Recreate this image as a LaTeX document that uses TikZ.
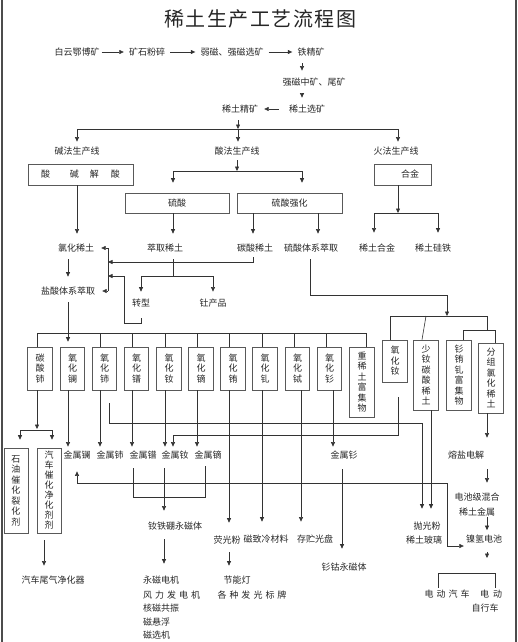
\documentclass[tikz,border=0pt]{standalone}
\usepackage{fontspec}
\setmainfont{Noto Sans CJK SC}
\usetikzlibrary{arrows.meta}
\begin{document}
\begin{tikzpicture}[x=1pt,y=-1pt,
 lbl/.style={inner xsep=2pt, inner ysep=7pt, text=black!85, font=\fontsize{9}{10}\selectfont},
 vbox/.style={draw=black!65, line width=0.6pt, align=center, inner sep=0pt, minimum width=24.5pt, text=black!85, font=\fontsize{9}{10.5}\selectfont},
 hbox/.style={draw=black!65, line width=0.6pt, inner sep=0pt, text=black!85, font=\fontsize{9}{10}\selectfont},
 ln/.style={draw=black!80, line width=0.6pt},
 arr/.style={ln, -{Triangle[length=4.5pt,width=4pt]}},
 arrtwo/.style={ln, {Triangle[length=4.5pt,width=4pt]}-{Triangle[length=4.5pt,width=4pt]}}]
\useasboundingbox (0,0) rectangle (518,642);
\draw[black!70, line width=1.2pt] (2,0) -- (2,642);
\draw[black!70, line width=1.2pt] (516,0) -- (516,642);

\node[text=black!85, font=\fontsize{20}{24}\selectfont, inner sep=0pt] (title) at (260,19) {稀\hspace{1.5pt}土\hspace{1.5pt}生\hspace{1.5pt}产\hspace{1.5pt}工\hspace{1.5pt}艺\hspace{1.5pt}流\hspace{1.5pt}程\hspace{1.5pt}图};

% row 1
\node[lbl] (n1) at (77,52) {白云鄂博矿};
\node[lbl] (n2) at (147,52) {矿石粉碎};
\node[lbl] (n3) at (232,52) {弱磁、强磁选矿};
\node[lbl] (n4) at (311,52) {铁精矿};
\draw[arr, shorten >=3pt] (n1) -- (n2);
\draw[arr, shorten >=3pt, shorten <=3pt] (n2) -- (n3);
\draw[arr, shorten >=3pt, shorten <=3pt] (n3) -- (n4);
\node[lbl] (n5) at (314,82) {强磁中矿、尾矿};
\node[lbl] (n6) at (307,109) {稀土选矿};
\node[lbl] (n7) at (240,109) {稀土精矿};
\draw[arr] (n4.south -| 302,0) -- (n5.north -| 302,0);
\draw[arr] (n5.south -| 302,0) -- (n6.north -| 302,0);
\draw[arr, shorten <=8pt, shorten >=4pt] (n6.west) -- (n7.east);

% split into three lines
\coordinate (j1) at (238,129);
\coordinate (j1l) at (77,129);
\coordinate (j1r) at (398,129);
\node[lbl] (a1) at (77,151) {碱法生产线};
\node[lbl] (a2) at (237,151) {酸法生产线};
\node[lbl] (a3) at (396,151) {火法生产线};
\draw[arr] (n7.south -| j1) -- (j1);
\draw[ln] (j1l) -- (j1r);
\draw[arr, shorten >=-2pt] (j1l) -- (a1.north -| j1l);
\draw[arr, shorten >=-2pt] (j1) -- (a2.north -| j1);
\draw[arr, shorten >=-2pt] (j1r) -- (a3.north -| j1r);

% boxes
\node[hbox, minimum width=105pt, minimum height=21pt] (b1) at (80.5,174.5) {酸\hspace{20pt}碱\hspace{11pt}解\hspace{12pt}酸\hspace{10pt}};
\node[hbox, minimum width=104pt, minimum height=20pt] (b2) at (177,203) {硫酸\hspace{16pt}};
\node[hbox, minimum width=105pt, minimum height=20pt] (b3) at (289.5,203) {硫酸强化\hspace{33pt}};
\node[hbox, minimum width=57pt, minimum height=21pt] (b4) at (402.5,174.5) {\hspace{15pt}合金};

\coordinate (j2) at (237,171);
\coordinate (j2l) at (173,171);
\coordinate (j2r) at (302,171);
\draw[arr, shorten <=-2pt] (a2.south -| j2) -- (j2);
\draw[ln] (j2l) -- (j2r);
\draw[arr] (j2l) -- ([yshift=10pt]b2.north -| j2l);
\draw[arr] (j2r) -- ([yshift=10pt]b3.north -| j2r);

% 火法
\coordinate (j3) at (398,213);
\coordinate (j3l) at (374,213);
\coordinate (j3r) at (438,213);
\node[lbl] (c1) at (377,248) {稀土合金};
\node[lbl] (c2) at (433,248) {稀土硅铁};
\draw[arr] (b4.south -| j3) -- (j3);
\draw[ln] (j3l) -- (j3r);
\draw[arr, shorten >=4pt] (j3l) -- (c1.north -| j3l);
\draw[arr, shorten >=4pt] (j3r) -- (c2.north -| j3r);

% d row
\node[lbl] (d1) at (76,248) {氯化稀土};
\node[lbl] (d2) at (165,248) {萃取稀土};
\node[lbl] (d3) at (255,248) {碳酸稀土};
\node[lbl] (d4) at (311,248) {硫酸体系萃取};
\node[lbl] (d5) at (68,291) {盐酸体系萃取};
\draw[arr, shorten >=3pt] (b1.south -| 77,0) -- (d1.north -| 77,0);
\draw[arr, shorten >=3pt] (b2.south -| 173,0) -- (d2.north -| 173,0);
\draw[arr, shorten >=3pt] (b3.south -| 253,0) -- (d3.north -| 253,0);
\draw[arr, shorten >=3pt] (b3.south -| 318,0) -- (d4.north -| 318,0);
\draw[arr, shorten >=3pt] (d1.south -| 68,0) -- (d5.north -| 68,0);

% bracket to 氯化稀土 / 盐酸体系萃取
\coordinate (k1) at (108,248);
\coordinate (k2) at (108,291);
\coordinate (k3) at (108,262);
\coordinate (k4) at (173,276);
\coordinate (k5) at (108,276);
\coordinate (k6) at (124,323);
\draw[ln] (k1) -- (k2);
\draw[arr, shorten >=5pt] (k1) -- (d1.east);
\draw[arr, shorten >=5pt] (k2) -- (d5.east);
\draw[arr, shorten <=-2pt] (d3.south -| 253,0) |- (k3);

\node[lbl] (e1) at (141,303) {转型};
\node[lbl] (e2) at (213,303) {钍产品};
\draw[ln] (d2.south -| k4) -- (k4);
\draw[ln] (e1.north |- k4) -- (e2.north |- k4);
\draw[arr] (e1.north |- k4) -- (e1.north);
\draw[arr] (e2.north |- k4) -- (e2.north);
\draw[arr, shorten <=4pt] (e1.south) |- (k6) |- (k5);

% oxide boxes
\node[vbox, minimum height=43pt] (f1) at (40,368.5) {碳\\酸\\铈};
\node[vbox, minimum height=43pt] (f2) at (72.5,368.5) {氧\\化\\镧};
\node[vbox, minimum height=43pt] (f3) at (104.5,368.5) {氧\\化\\铈};
\node[vbox, minimum height=43pt] (f4) at (136.5,368.5) {氧\\化\\镨};
\node[vbox, minimum height=43pt] (f5) at (169,368.5) {氧\\化\\钕};
\node[vbox, minimum height=43pt] (f6) at (201,368.5) {氧\\化\\镝};
\node[vbox, minimum height=43pt] (f7) at (233,368.5) {氧\\化\\铕};
\node[vbox, minimum height=43pt] (f8) at (265,368.5) {氧\\化\\钆};
\node[vbox, minimum height=43pt] (f9) at (297.5,368.5) {氧\\化\\铽};
\node[vbox, minimum height=43pt] (f10) at (329.5,368.5) {氧\\化\\钐};
\node[vbox, minimum height=70pt] (f11) at (362,382) {重\\稀\\土\\富\\集\\物};

\coordinate (bar1l) at (37,333);
\coordinate (bar1r) at (366,333);
\draw[ln] (bar1l) -- (bar1r);
\foreach \x/\n in {37/f1,100/f3,132/f4,165/f5,197/f6,229/f7,262/f8,294/f9,326/f10,366/f11}
  \draw[ln] (\x,333) -- (\n.north -| \x,0);
\draw[arr, shorten >=5pt] (d5.south -| 68,0) -- (f2.north -| 68,0);

% right group
\node[vbox, minimum height=42pt] (r1) at (395,361) {氧\\化\\钕};
\node[vbox, minimum height=70pt] (r2) at (426,375) {少\\钕\\碳\\酸\\稀\\土};
\node[vbox, minimum height=70pt] (r3) at (459,375) {钐\\铕\\钆\\富\\集\\物};
\node[vbox, minimum height=70pt] (r4) at (491,378) {分\\组\\氯\\化\\稀\\土};
\coordinate (t0) at (447,295);
\coordinate (t1) at (447,316);
\coordinate (t1l) at (390,316);
\coordinate (t1r) at (487,316);
\coordinate (t2) at (487,330);
\coordinate (t2l) at (463,330);
\coordinate (t2r) at (495,330);
\draw[arr] (d4.south -| 310,0) |- (t0) -- (t1);
\draw[ln] (t1l) -- (t1r);
\draw[ln] (t1l) -- (r1.north -| t1l);
\draw[ln] (r2.north |- t1l) -- (r2.north -| 422,0);
\draw[ln] (t1r) -- (t2);
\draw[ln] (t2l) -- (t2r);
\draw[ln] (t2l) -- (r3.north -| t2l);
\draw[ln] (t2r) -- (r4.north -| t2r);

% 碳酸铈 branch
\coordinate (g0) at (37,430);
\coordinate (g0l) at (20,430);
\coordinate (g0r) at (52,430);
\node[vbox, minimum width=24pt, minimum height=85pt] (g1) at (16,490.5) {石\\油\\催\\化\\裂\\化\\剂};
\node[vbox, minimum width=24pt, minimum height=85pt, font=\fontsize{9}{10}\selectfont] (g2) at (49,490.5) {汽\\车\\催\\化\\净\\化\\剂\\剂};
\node[lbl] (h1) at (53,580) {汽车尾气净化器};
\draw[arr, shorten >=1pt] (f1.south -| g0) -- (g0);
\draw[ln] (g0l) -- (g0r);
\draw[arr] (g0l) -- ([yshift=8pt]g1.north -| g0l);
\draw[arr] (g0r) -- ([yshift=8pt]g2.north -| g0r);
\draw[arr, shorten <=7pt, shorten >=3pt] (g2.south -| 44,0) -- (h1.north -| 44,0);

% metals
\node[lbl] (m1) at (77,455) {金属镧};
\node[lbl] (m2) at (110,455) {金属铈};
\node[lbl] (m3) at (143,455) {金属镨};
\node[lbl] (m4) at (175,455) {金属钕};
\node[lbl] (m5) at (208,455) {金属镝};
\draw[arr, shorten >=-3pt] (f2.south -| 68,0) -- (m1.north -| 68,0);
\draw[arr, shorten >=-3pt] (f3.south -| 100,0) -- (m2.north -| 100,0);
\draw[arr, shorten >=-3pt] (f4.south -| 132,0) -- (m3.north -| 132,0);
\draw[arr, shorten >=-3pt] (f5.south -| 165,0) -- (m4.north -| 165,0);
\draw[arr, shorten >=-3pt] (f6.south -| 197,0) -- (m5.north -| 197,0);

\node[lbl] (p1) at (427,526) {抛光粉};
\node[lbl] (p2) at (424,540) {稀土玻璃};
\coordinate (q1) at (422,423);
\coordinate (q2) at (173,435);
\draw[arr, shorten <=13pt, shorten >=6pt] (f3.south -| 109,0) |- (q1) -- (p1.north -| q1);
\draw[arr, shorten <=15pt, shorten >=-3pt] (r1.south -| 398,0) |- (q2) -- (m4.north -| q2);
\draw[arr, shorten >=6pt] (r2.south -| 431,0) -- (p1.north -| 431,0);

% long lines
\node[lbl] (u1) at (227,540) {荧光粉};
\node[lbl] (u4) at (266,539) {磁致冷材料};
\node[lbl] (u5) at (315,539) {存贮光盘};
\node[lbl] (u6) at (344,455) {金属钐};
\node[lbl] (u7) at (344,567) {钐钴永磁体};
\node[lbl] (u2) at (237,580) {节能灯};
\node[lbl] (u3) at (252,595) {各\hspace{3pt}种\hspace{3pt}发\hspace{3pt}光\hspace{3pt}标\hspace{3pt}牌};
\draw[arr, shorten >=6pt] (f7.south -| 229,0) -- (u1.north -| 229,0);
\draw[arr, shorten >=6pt] (f8.south -| 262,0) -- (u4.north -| 262,0);
\draw[arr, shorten >=6pt] (f9.south -| 301,0) -- (u5.north -| 301,0);
\draw[arr, shorten >=-3pt] (f10.south -| 333,0) -- (u6.north -| 333,0);
\draw[arr, shorten <=3pt, shorten >=7pt] (u6.south -| 342,0) -- (u7.north -| 342,0);
\draw[arr, shorten <=1pt, shorten >=3pt] (u1.south -| 229,0) -- (u2.north -| 229,0);

% NdFeB
\node[lbl] (v1) at (175,526) {钕铁硼永磁体};
\coordinate (v0) at (205,497);
\draw[ln, shorten <=2pt] (m3.south -| 133,0) |- (v0) -- (m5.south -| v0);
\draw[arr, shorten <=2pt, shorten >=4pt] (m4.south -| 164,0) -- (v1.north -| 164,0);
\node[lbl, anchor=west] (w1) at (141,580) {永磁电机};
\node[lbl, anchor=west] (w2) at (141,595) {风\hspace{3pt}力\hspace{3pt}发\hspace{3pt}电\hspace{3pt}机};
\node[lbl, anchor=west] (w3) at (141,608) {核磁共振};
\node[lbl, anchor=west] (w4) at (141,622) {磁悬浮};
\node[lbl, anchor=west] (w5) at (141,635) {磁选机};
\draw[arr, shorten <=2pt, shorten >=5pt] (v1.south -| 164,0) -- (w1.north -| 164,0);

% right column
\node[lbl] (s1) at (466,455) {熔盐电解};
\node[lbl, align=center, font=\fontsize{9}{15}\selectfont] (s2) at (477,504.5) {电池级混合\\稀土金属};
\node[lbl] (s4) at (484,539) {镍氢电池};
\draw[arr, shorten >=6pt] (r4.south -| 487,0) -- (s1.north -| 487,0);
\draw[arr, shorten <=3pt, shorten >=3pt] (s1.south -| 487,0) -- (s2.north -| 487,0);
\draw[arr, shorten <=-6pt, shorten >=-2.5pt] (s2.south -| 487,0) -- (s4.north -| 487,0);
\coordinate (x1) at (447,483);
\draw[arrtwo, shorten <=5pt] (m1.south -| 77,0) |- (x1) |- (s4.west |- 0,546);

\coordinate (y0) at (487,558);
\coordinate (y1) at (438,573);
\coordinate (y2) at (495,573);
\node[lbl] (z1) at (447,594) {电\hspace{3pt}动\hspace{3pt}汽\hspace{3pt}车};
\node[lbl] (z2) at (491,594) {电\hspace{4pt}动};
\node[lbl] (z3) at (485,608) {自行车};
\draw[arr, shorten <=2pt] (s4.south -| y0) -- (y0);
\draw[ln] (y1) -- (y2);
\draw[ln] (y1) -- ([yshift=-15pt]y1);
\draw[ln] (y2) -- ([yshift=-15pt]y2);
\end{tikzpicture}
\end{document}
